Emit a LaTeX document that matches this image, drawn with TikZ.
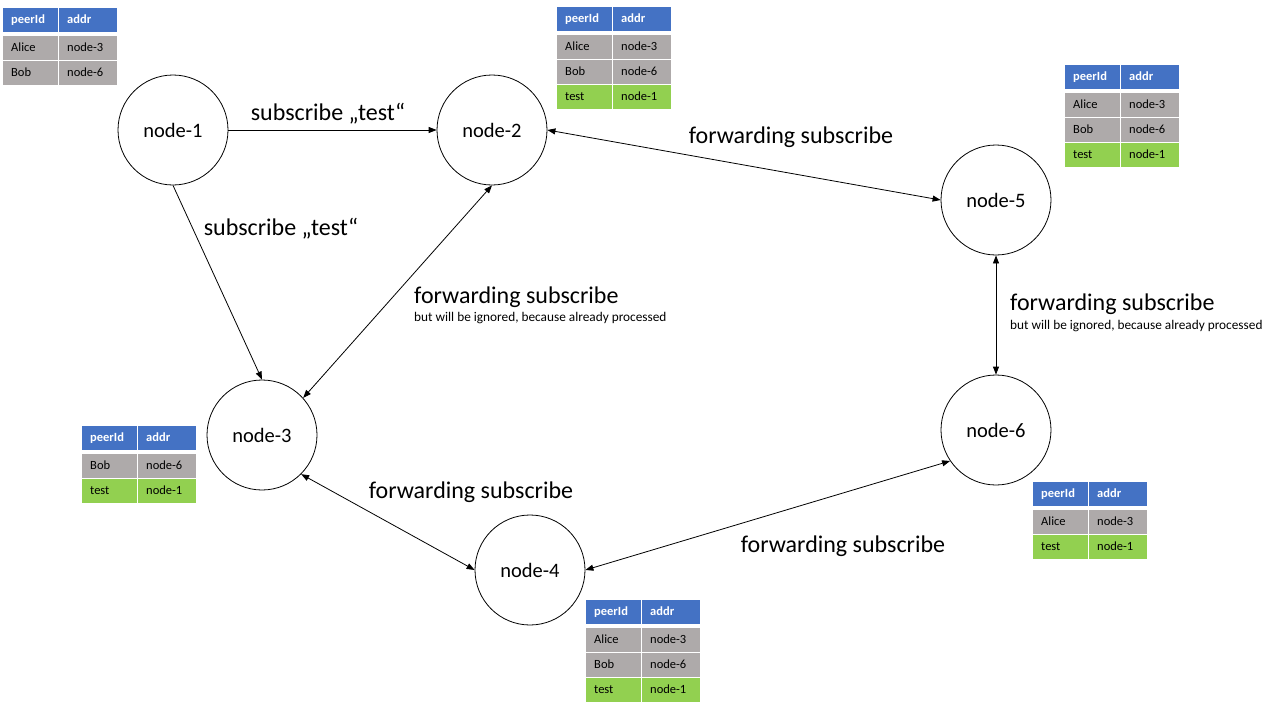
\documentclass[tikz,border=0pt]{standalone}
\usepackage{fontspec}
\setmainfont{Carlito}
\usepackage{xcolor}
\usepackage{tikz}
\usetikzlibrary{arrows.meta, positioning}

\definecolor{hdrblue}{HTML}{4472C4}
\definecolor{rowgrey}{HTML}{AEAAAA}
\definecolor{rowgreen}{HTML}{92D050}

\tikzset{
  peer/.style={circle, draw, line width=0.8pt, minimum size=110pt, inner sep=0pt,
    font=\fontsize{20.5}{24}\selectfont},
  msg/.style={font=\fontsize{24}{28}\selectfont, inner sep=0pt},
  note/.style={font=\fontsize{13.3}{16}\selectfont, inner sep=0pt},
  link/.style={line width=0.8pt, -{Triangle[length=8pt,width=6pt]}},
  dlink/.style={line width=0.8pt, {Triangle[length=8pt,width=6pt]}-{Triangle[length=8pt,width=6pt]}},
  cell/.style={anchor=north west, minimum height=24pt, inner xsep=8pt, inner ysep=0pt,
    align=left, text height=9.5pt, text depth=2.5pt, font=\fontsize{12.5}{14}\selectfont},
  col1/.style={cell, text width=39pt},
  col2/.style={cell, text width=42pt},
  hdr/.style={fill=hdrblue, text=white, font=\fontsize{12.5}{14}\selectfont\bfseries},
  grey/.style={fill=rowgrey},
  green/.style={fill=rowgreen}
}

% peer table: name, top left corner, rows peer/addr/colour
\newcommand{\peertable}[3]{%
  \begin{scope}[shift={(#2)}]
    \node[col1, hdr] (#1-h1) at (0,0) {peerId};
    \node[col2, hdr] (#1-h2) at (56,0) {addr};
    \foreach \pid/\adr/\kind [count=\i] in {#3}
      {\node[col1, \kind] (#1-\i a) at (0,{28+25*(\i-1)}) {\pid};
       \node[col2, \kind] (#1-\i b) at (56,{28+25*(\i-1)}) {\adr};}
  \end{scope}}

\begin{document}
\begin{tikzpicture}[x=1pt, y=-1pt]
        \useasboundingbox (0,0) rectangle (1280,720);

        % Add the peers
        \node[peer] (n1) at (173,130) {node-1};
        \node[peer] (n2) at (492,130) {node-2};
        \node[peer] (n3) at (262,435) {node-3};
        \node[peer] (n4) at (530,570) {node-4};
        \node[peer] (n5) at (996,200) {node-5};
        \node[peer] (n6) at (996,430) {node-6};

        % Connect the peers
        \draw[link]  (n1.east) -- (n2.west);
        \draw[link]  (n1.south) -- (n3.north);
        \draw[dlink] (n2.south) -- (n3.42);
        \draw[dlink] (n2.east) -- (n5.west);
        \draw[dlink] (n5.south) -- (n6.north);
        \draw[dlink] (n3.-45) -- (n4.west);
        \draw[dlink] (n4.east) -- (n6.214);

        % Messages
        \node[msg] (m12) at (328,114) {subscribe „test“};
        \node[msg] (m13) at (281,229) {subscribe „test“};
        \node[msg, anchor=west] (m23) at (414,297) {forwarding subscribe};
        \node[note, anchor=west] (i23) at (414,318) {but will be ignored, because already processed};
        \node[msg] (m25) at (791,137) {forwarding subscribe};
        \node[msg, anchor=west] (m56) at (1010,304) {forwarding subscribe};
        \node[note, anchor=west] (i56) at (1010,326) {but will be ignored, because already processed};
        \node[msg] (m34) at (471,492) {forwarding subscribe};
        \node[msg] (m46) at (843,546) {forwarding subscribe};

        % Peer tables
        \peertable{t1}{3,8}{Alice/node-3/grey, Bob/node-6/grey}
        \peertable{t2}{557,7}{Alice/node-3/grey, Bob/node-6/grey, test/node-1/green}
        \peertable{t5}{1065,65}{Alice/node-3/grey, Bob/node-6/grey, test/node-1/green}
        \peertable{t3}{82,426}{Bob/node-6/grey, test/node-1/green}
        \peertable{t6}{1033,482}{Alice/node-3/grey, test/node-1/green}
        \peertable{t4}{586,600}{Alice/node-3/grey, Bob/node-6/grey, test/node-1/green}
    \end{tikzpicture}
\end{document}
